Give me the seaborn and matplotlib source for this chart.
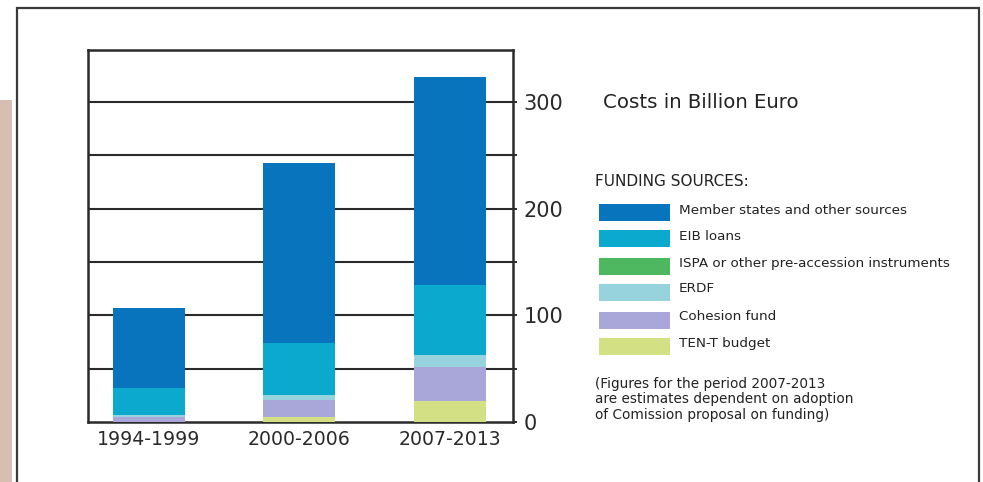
import matplotlib
matplotlib.use("Agg")
import matplotlib.pyplot as plt
from matplotlib.patches import Rectangle
import numpy as np
import pandas as pd
import seaborn as sns

periods = ["1994-1999", "2000-2006", "2007-2013"]
series_names = ["TEN-T budget", "Cohesion fund", "ERDF",
                "ISPA or other pre-accession instruments", "EIB loans",
                "Member states and other sources"]
ten_t = [0, 5, 20]
cohesion = [5, 16, 32]
erdf = [2, 4, 11]
ispa = [0, 0, 0]
eib = [25, 49, 65]
member = [75, 169, 195]
series_values = [ten_t, cohesion, erdf, ispa, eib, member]
colors = ["#d3e083", "#a9a6d9", "#96d3dc", "#4db85f", "#0aa9cd", "#0874be"]
legend_order = ["Member states and other sources", "EIB loans",
                "ISPA or other pre-accession instruments", "ERDF",
                "Cohesion fund", "TEN-T budget"]
y_ticks = [0, 50, 100, 150, 200, 250, 300]
y_tick_labels = ["0", "", "100", "", "200", "", "300"]

W, H = 983, 482
fig = plt.figure(figsize=(W / 100, H / 100), dpi=100)
fig.patch.set_facecolor("white")

def fx(px):
    return px / W

def fy(py):
    return 1 - py / H

# pink strip on left (background photo edge)
fig.add_artist(Rectangle((0, 0), fx(12), fy(100), transform=fig.transFigure,
                         facecolor="#d8beb2", edgecolor="none", zorder=0))
# white panel with border
fig.add_artist(Rectangle((fx(17), -0.05), fx(979) - fx(17), fy(8) + 0.05,
                         transform=fig.transFigure, facecolor="white",
                         edgecolor="#3a3a3a", linewidth=1.6, zorder=0))

ax = fig.add_axes([fx(88), fy(422), fx(513) - fx(88), fy(50) - fy(422)])
ax.set_facecolor("none")

df = pd.DataFrame({"period": periods})
cum = np.zeros(len(periods))
for name, vals, col in zip(series_names, series_values, colors):
    df[name] = vals
    sns.barplot(data=df, x="period", y=name, order=periods, color=col,
                width=0.48, bottom=cum.copy(), ax=ax, linewidth=0,
                saturation=1, zorder=3)
    cum = cum + np.array(vals)

ax.set_xlim(-0.405, 2.42)
ax.set_ylim(0, 348.75)
ax.set_xlabel("")
ax.set_ylabel("")
ax.yaxis.tick_right()
ax.set_yticks(y_ticks)
ax.set_yticklabels(y_tick_labels)
for y in y_ticks[1:]:
    ax.axhline(y, color="#2a2a2a", linewidth=1.5, zorder=2)
for s in ax.spines.values():
    s.set_color("#2a2a2a")
    s.set_linewidth(1.8)
ax.tick_params(axis="y", which="both", length=3, width=1.4, color="#2a2a2a",
               pad=4.5, labelsize=15, labelcolor="#2a2a2a")
ax.tick_params(axis="x", length=0, pad=6, labelsize=13.6, labelcolor="#2a2a2a")

# text panel
fig.text(fx(603), fy(103), "Costs in Billion Euro", fontsize=14.2,
         color="#222222", va="center", ha="left")
fig.text(fx(595), fy(182), "FUNDING SOURCES:", fontsize=11,
         color="#222222", va="center", ha="left")
row_y = [213, 239, 266, 292, 320, 346]
for name, yc in zip(legend_order, row_y):
    col = colors[series_names.index(name)]
    fig.add_artist(Rectangle((fx(599), fy(yc + 8.5)), fx(670) - fx(599), 17 / H,
                             transform=fig.transFigure, facecolor=col,
                             edgecolor="none"))
    fig.text(fx(679), fy(yc - 3), name, fontsize=9.7, color="#222222",
             va="center", ha="left")
fig.text(fx(595), fy(377), "(Figures for the period 2007-2013\n"
         "are estimates dependent on adoption\n"
         "of Comission proposal on funding)", fontsize=9.8, color="#222222",
         va="top", ha="left", linespacing=1.12)

fig.savefig("out.png", dpi=100)
